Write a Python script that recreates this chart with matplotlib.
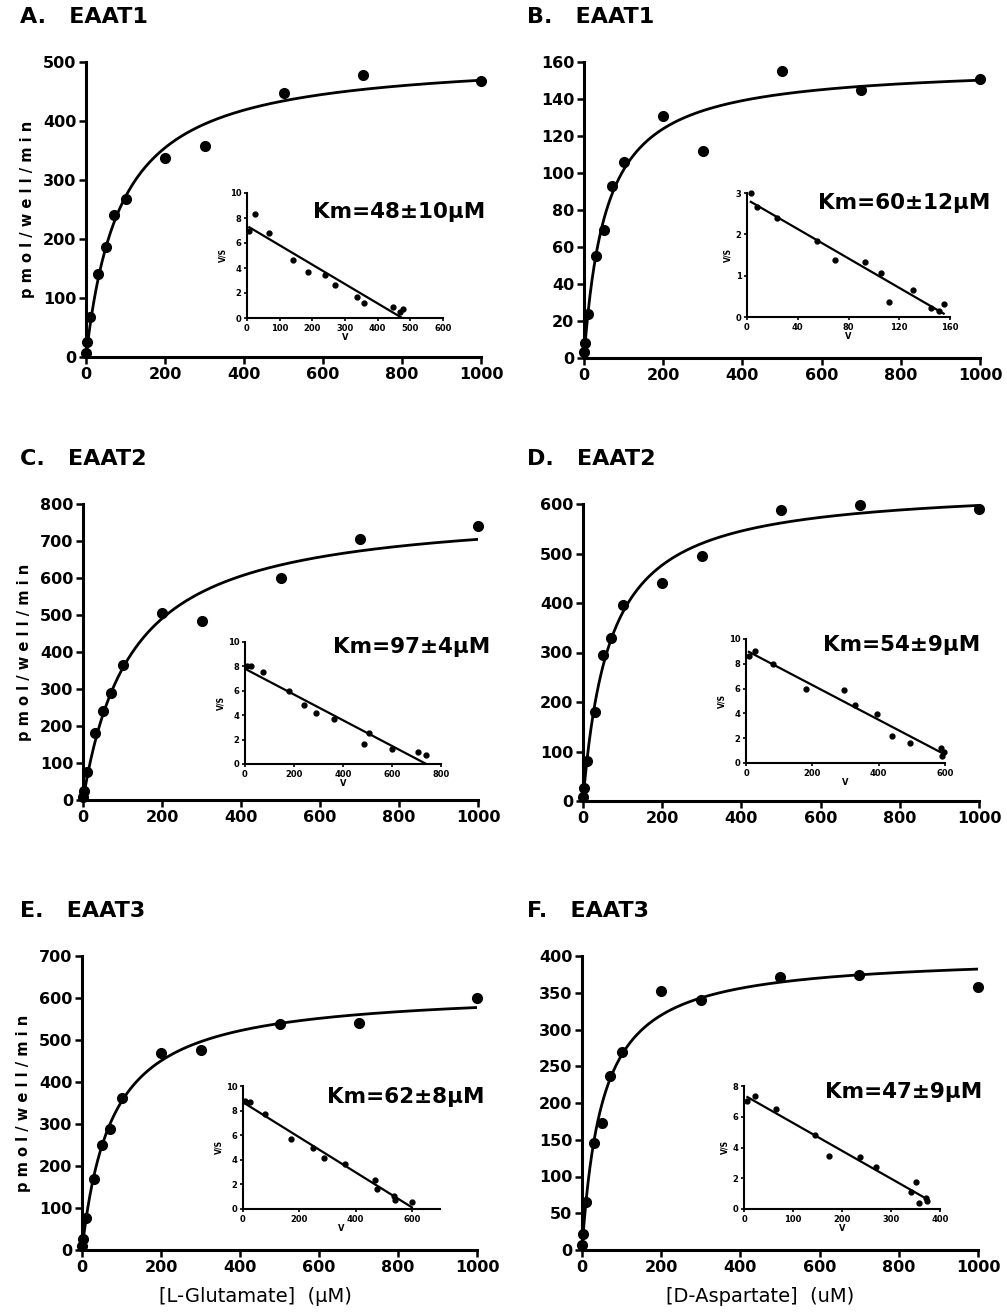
import numpy as np
import matplotlib
matplotlib.use("Agg")
import matplotlib.pyplot as plt

plt.rcParams['font.family'] = ['DejaVu Sans']

# substrate concentrations (uM)
conc = [1, 3, 10, 30, 50, 70, 100, 200, 300, 500, 700, 1000]

# uptake, pmol/well/min
eaat1_glu = [7, 25, 68, 140, 186, 240, 268, 337, 357, 448, 478, 468]
eaat1_asp = [3, 8, 24, 55, 69, 93, 106, 131, 112, 155, 145, 151]
eaat2_glu = [8, 24, 75, 180, 240, 290, 365, 505, 485, 600, 705, 740]
eaat2_asp = [8.6, 27, 80, 180, 295, 330, 395, 440, 495, 588, 598, 590]
eaat3_glu = [8.8, 26, 77, 170, 250, 288, 362, 470, 477, 537, 540, 600]
eaat3_asp = [7, 22, 65, 145, 173, 237, 270, 352, 340, 372, 374, 358]

titles = ["A.   EAAT1", "B.   EAAT1", "C.   EAAT2", "D.   EAAT2", "E.   EAAT3", "F.   EAAT3"]
km_text = ["Km=48±10µM", "Km=60±12µM", "Km=97±4µM", "Km=54±9µM", "Km=62±8µM", "Km=47±9µM"]
series = [eaat1_glu, eaat1_asp, eaat2_glu, eaat2_asp, eaat3_glu, eaat3_asp]
ymax = [500, 160, 800, 600, 700, 400]
ystep = [100, 20, 100, 100, 100, 50]

# inset axis limits / ticks
ins_xlim = [600, 160, 800, 600, 700, 400]
ins_xticks = [np.arange(0, 601, 100), np.arange(0, 161, 40), np.arange(0, 801, 200),
              np.arange(0, 601, 200), np.arange(0, 601, 200), np.arange(0, 401, 100)]
ins_ylim = [10, 3, 10, 10, 10, 8]
ins_yticks = [np.arange(0, 11, 2), np.arange(0, 4, 1), np.arange(0, 11, 2),
              np.arange(0, 11, 2), np.arange(0, 11, 2), np.arange(0, 9, 2)]

W, H = 1007, 1313
main_px = [(86, 481, 62, 357), (584, 980, 62, 358),
           (83, 478, 504, 800), (583, 979, 504, 801),
           (82, 477, 956, 1250), (582, 978, 956, 1250)]
inset_px = [(247, 443, 193, 318), (747, 950, 193, 317),
            (245, 441, 642, 764), (746, 945, 639, 763),
            (243, 440, 1086, 1209), (744, 940, 1086, 1209)]
km_pos = [(313, 212), (818, 203), (333, 647), (823, 645), (327, 1097), (825, 1092)]
title_x = [20, 527]


def rect(px):
    l, r, t, b = px
    return [l / W, 1 - b / H, (r - l) / W, (b - t) / H]


def mm_fit(s, v):
    s = np.asarray(s, float)
    v = np.asarray(v, float)
    best = None
    for km in np.linspace(1, 400, 4000):
        f = s / (km + s)
        vmax = np.sum(v * f) / np.sum(f * f)
        err = np.sum((v - vmax * f) ** 2)
        if best is None or err < best[0]:
            best = (err, vmax, km)
    return best[1], best[2]


fig = plt.figure(figsize=(W / 100, H / 100), dpi=100)

for i in range(6):
    s = np.array(conc, float)
    v = np.array(series[i], float)
    ax = fig.add_axes(rect(main_px[i]))
    vmax, km = mm_fit(s, v)
    xs = np.linspace(0, 1000, 400)
    ax.plot(xs, vmax * xs / (km + xs), color='black', lw=2)
    ax.plot(s, v, 'o', color='black', ms=7, clip_on=False)
    ax.set_xlim(0, 1000)
    ax.set_ylim(0, ymax[i])
    ax.set_xticks(np.arange(0, 1001, 200))
    ax.set_yticks(np.arange(0, ymax[i] + 1, ystep[i]))
    for sp in ['top', 'right']:
        ax.spines[sp].set_visible(False)
    for sp in ['left', 'bottom']:
        ax.spines[sp].set_linewidth(2.2)
    ax.tick_params(direction='out', length=5, width=1.8, labelsize=11.5, pad=2)
    for lab in ax.get_xticklabels() + ax.get_yticklabels():
        lab.set_fontweight('bold')
    if i % 2 == 0:
        ax.set_ylabel("p m o l / w e l l / m i n", fontsize=10.5, fontweight='bold', labelpad=6)
    l, r, t, b = main_px[i]
    fig.text(title_x[i % 2] / W, 1 - (t - 45) / H, titles[i], fontsize=16, fontweight='bold',
             ha='left', va='center')
    kx, ky = km_pos[i]
    fig.text(kx / W, 1 - ky / H, km_text[i], fontsize=15.5, fontweight='bold',
             ha='left', va='center')

    # Eadie-Hofstee inset: v/S against v
    ia = fig.add_axes(rect(inset_px[i]))
    ratio = v / s
    ia.plot(v, ratio, 'o', color='black', ms=3.5, clip_on=False)
    slope, icpt = np.polyfit(v, ratio, 1)
    x_end = min(v.max(), -icpt / slope)
    lx = np.array([v.min(), x_end])
    ia.plot(lx, icpt + slope * lx, color='black', lw=1.6)
    ia.set_xlim(0, ins_xlim[i])
    ia.set_ylim(0, ins_ylim[i])
    ia.set_xticks(ins_xticks[i])
    ia.set_yticks(ins_yticks[i])
    for sp in ['top', 'right']:
        ia.spines[sp].set_visible(False)
    for sp in ['left', 'bottom']:
        ia.spines[sp].set_linewidth(1.5)
    ia.tick_params(direction='out', length=2.5, width=1.2, labelsize=6, pad=1.5)
    for lab in ia.get_xticklabels() + ia.get_yticklabels():
        lab.set_fontweight('bold')
    ia.set_xlabel("V", fontsize=6, fontweight='bold', labelpad=0)
    ia.set_ylabel("V/S", fontsize=5.5, fontweight='bold', labelpad=2)

fig.text(255 / W, 1 - 1297 / H, "[L-Glutamate]  (µM)", fontsize=14, ha='center', va='center')
fig.text(760 / W, 1 - 1297 / H, "[D-Aspartate]  (uM)", fontsize=14, ha='center', va='center')

fig.savefig("out.png", dpi=100)
